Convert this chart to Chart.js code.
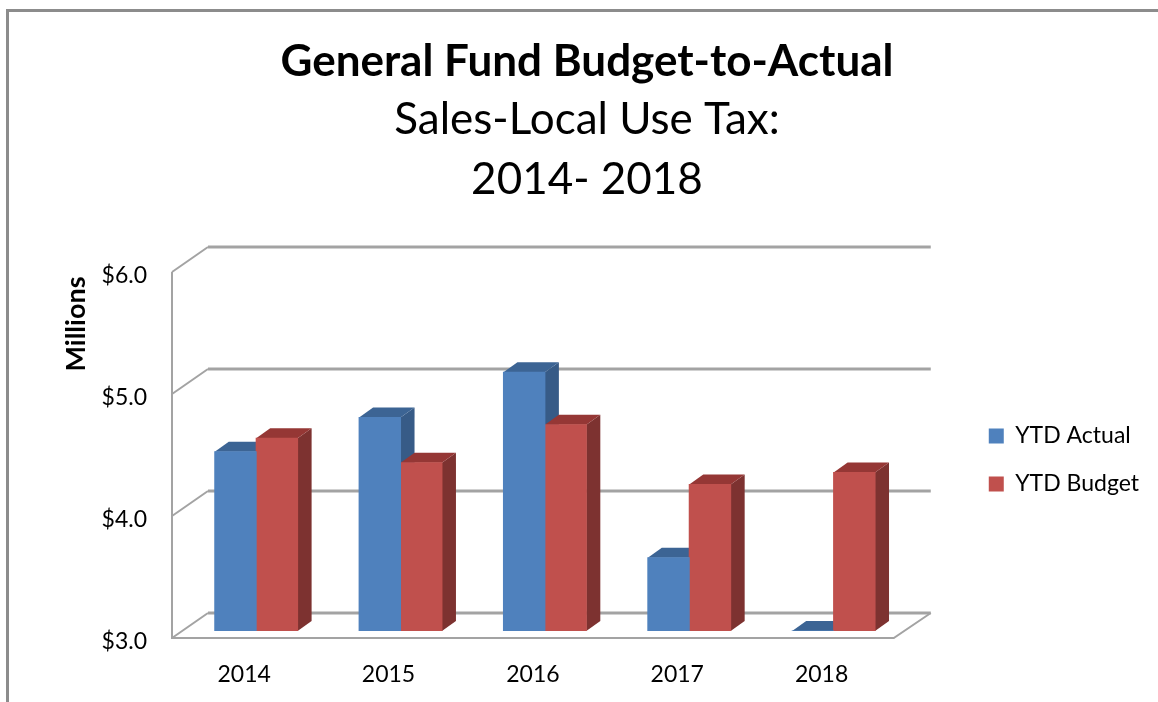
<!DOCTYPE html>
<html>
<head>
<meta charset="utf-8">
<style>
html,body{margin:0;padding:0;background:#fff;overflow:hidden;width:1158px;height:702px}
#frame{position:absolute;left:6px;top:9px;width:1152px;height:693px;border-left:3px solid #8c8c8c;border-top:3px solid #8c8c8c;box-sizing:border-box}
canvas{display:block}
</style>
<script src="https://cdn.jsdelivr.net/npm/chart.js@4"></script>
</head>
<body>
<div id="frame"><canvas id="c" width="1149" height="690"></canvas></div>
<script>
const categories = ['2014','2015','2016','2017','2018'];
const ytdActual = [4.47,4.75,5.12,3.60,3.00];
const ytdBudget = [4.58,4.38,4.69,4.20,4.30];
const titleLine = 'General Fund Budget-to-Actual';
const subtitleLines = ['Sales-Local Use Tax:','2014- 2018'];
const axisTitle = 'Millions';
const FONT = 'Lato, Carlito, Calibri, sans-serif';
const BLUE = {front:'#4F81BD', top:'#3C6494', side:'#375B87'};
const RED  = {front:'#C0504D', top:'#953735', side:'#7D3230'};

const depth3d = {
  id:'depth3d',
  afterLayout(chart){
    const l = chart.legend;
    l.top += 12; l.bottom += 12;
  },
  beforeDatasetsDraw(chart){
    const {ctx, chartArea:a, scales:{y}} = chart;
    ctx.save();
    // walls and floor
    ctx.strokeStyle = '#A3A3A3';
    ctx.lineJoin = 'miter';
    y.ticks.forEach(t => {
      const p = y.getPixelForValue(t.value);
      ctx.lineWidth = 2;
      ctx.beginPath();
      ctx.moveTo(a.left-12, p+7);
      ctx.lineTo(a.left+24, p-18);
      ctx.stroke();
      ctx.lineWidth = 3;
      ctx.beginPath();
      ctx.moveTo(a.left+24, p-18);
      ctx.lineTo(a.right+25, p-18);
      ctx.stroke();
    });
    const p0 = y.getPixelForValue(3), p1 = y.getPixelForValue(6);
    ctx.lineWidth = 2;
    ctx.beginPath();
    ctx.moveTo(a.left-12, p1+7);
    ctx.lineTo(a.left-12, p0+7);
    ctx.lineTo(a.right-12, p0+7);
    ctx.lineTo(a.right+25, p0-18);
    ctx.stroke();
    // bar tops and sides
    const dx = 14, dy = 10;
    [BLUE, RED].forEach((col, i) => {
      chart.getDatasetMeta(i).data.forEach(b => {
        const l = b.x - b.width/2, r = b.x + b.width/2, t = b.y, base = b.base;
        ctx.fillStyle = col.side;
        ctx.beginPath();
        ctx.moveTo(r,t); ctx.lineTo(r+dx,t-dy); ctx.lineTo(r+dx,base-dy); ctx.lineTo(r,base);
        ctx.closePath(); ctx.fill();
        ctx.fillStyle = col.top;
        ctx.beginPath();
        ctx.moveTo(l,t); ctx.lineTo(l+dx,t-dy); ctx.lineTo(r+dx,t-dy); ctx.lineTo(r,t);
        ctx.closePath(); ctx.fill();
      });
    });
    ctx.restore();
  },
  afterDraw(chart){
    const {ctx} = chart;
    ctx.save();
    ctx.translate(67, 312);
    ctx.rotate(-Math.PI/2);
    ctx.font = 'bold 27px ' + FONT;
    ctx.fillStyle = '#000';
    ctx.textAlign = 'center';
    ctx.textBaseline = 'middle';
    ctx.fillText(axisTitle, 0, 0);
    ctx.restore();
  }
};

new Chart(document.getElementById('c'), {
  type:'bar',
  data:{
    labels:categories,
    datasets:[
      {label:'YTD Actual', data:ytdActual, base:3, backgroundColor:BLUE.front, inflateAmount:0.5},
      {label:'YTD Budget', data:ytdBudget, base:3, backgroundColor:RED.front, inflateAmount:0.5}
    ]
  },
  plugins:[depth3d],
  options:{
    responsive:false,
    animation:false,
    categoryPercentage:0.574,
    barPercentage:1,
    layout:{padding:{left:16,right:9,top:0,bottom:0}},
    plugins:{
      title:{display:true,text:titleLine,color:'#000',
        font:{family:FONT,size:44,weight:'bold',lineHeight:'56px'},padding:{top:22,bottom:0}},
      subtitle:{display:true,text:subtitleLines,color:'#000',
        font:{family:FONT,size:44,weight:'normal',lineHeight:'60px'},padding:{top:0,bottom:55}},
      legend:{position:'right',fullSize:false,
        labels:{boxWidth:15,boxHeight:15,padding:25,color:'#000',font:{family:FONT,size:23}}},
      tooltip:{enabled:false}
    },
    scales:{
      x:{grid:{display:false},border:{display:false},
        ticks:{color:'#000',font:{family:FONT,size:23},padding:22,labelOffset:-12,maxRotation:0},
        afterFit(s){s.height=71;}},
      y:{min:3,max:6,grid:{display:false},border:{display:false},
        ticks:{stepSize:1,color:'#000',font:{family:FONT,size:23},padding:29,labelOffset:11,
          callback:v=>'$'+Number(v).toFixed(1)},
        afterFit(s){s.width=159;}},
      y2:{position:'right',display:true,grid:{display:false},border:{display:false},
        ticks:{display:false},afterFit(s){s.width=58;}}
    }
  }
});
</script>
</body>
</html>
